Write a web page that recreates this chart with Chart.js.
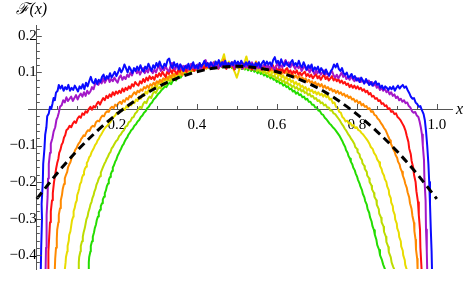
<!DOCTYPE html>
<html>
<head>
<meta charset="utf-8">
<script src="https://cdn.jsdelivr.net/npm/chart.js@4.4.0/dist/chart.umd.min.js"></script>
<style>
  html, body { margin: 0; padding: 0; background: #fff; }
  #plot { display: block; }
</style>
</head>
<body>
<canvas id="plot" width="463" height="282"></canvas>
<script>
// tick labels
const xTicks = [0.2, 0.4, 0.6, 0.8, 1.0];
const yTicks = [-0.4, -0.3, -0.2, -0.1, 0.1, 0.2];

// series, [x, F(x)]
const blue = [[0.010,-0.44],[0.011,-0.38],[0.013,-0.3],[0.012,-0.26],[0.015,-0.2],[0.016,-0.15],[0.019,-0.11],[0.021,-0.07],[0.024,-0.05],[0.026,-0.02],[0.030,-0.012],[0.033,0.006],[0.036,0.0],[0.039,0.014],[0.042,0.03],[0.045,0.024],[0.048,0.045],[0.052,0.05],[0.055,0.066],[0.059,0.056],[0.063,0.064],[0.067,0.05],[0.071,0.06],[0.075,0.054],[0.079,0.066],[0.083,0.05],[0.087,0.058],[0.091,0.052],[0.095,0.064],[0.099,0.056],[0.103,0.048],[0.107,0.062],[0.111,0.056],[0.115,0.068],[0.119,0.054],[0.123,0.072],[0.127,0.062],[0.131,0.076],[0.135,0.088],[0.139,0.074],[0.143,0.07],[0.147,0.082],[0.151,0.068],[0.155,0.08],[0.159,0.074],[0.163,0.088],[0.167,0.094],[0.171,0.08],[0.175,0.09],[0.179,0.084],[0.183,0.098],[0.187,0.086],[0.191,0.094],[0.195,0.102],[0.199,0.09],[0.203,0.1],[0.207,0.112],[0.211,0.1],[0.215,0.108],[0.219,0.122],[0.223,0.112],[0.227,0.1],[0.231,0.116],[0.235,0.108],[0.239,0.098],[0.243,0.112],[0.247,0.104],[0.251,0.116],[0.255,0.106],[0.259,0.12],[0.263,0.108],[0.267,0.102],[0.271,0.116],[0.275,0.11],[0.279,0.124],[0.283,0.114],[0.287,0.104],[0.291,0.12],[0.295,0.112],[0.299,0.126],[0.303,0.116],[0.307,0.13],[0.311,0.118],[0.315,0.112],[0.319,0.124],[0.323,0.118],[0.327,0.134],[0.331,0.138],[0.335,0.12],[0.339,0.112],[0.343,0.128],[0.347,0.116],[0.351,0.124],[0.355,0.108],[0.359,0.122],[0.363,0.114],[0.367,0.104],[0.371,0.118],[0.375,0.112],[0.379,0.124],[0.383,0.108],[0.387,0.116],[0.391,0.128],[0.395,0.112],[0.399,0.12],[0.403,0.11],[0.407,0.126],[0.411,0.116],[0.415,0.122],[0.419,0.132],[0.423,0.118],[0.427,0.126],[0.431,0.114],[0.435,0.128],[0.439,0.12],[0.443,0.112],[0.447,0.13],[0.451,0.122],[0.455,0.134],[0.459,0.118],[0.463,0.128],[0.467,0.12],[0.471,0.132],[0.475,0.114],[0.479,0.126],[0.483,0.118],[0.487,0.128],[0.491,0.12],[0.495,0.132],[0.499,0.122],[0.503,0.13],[0.507,0.116],[0.511,0.132],[0.515,0.124],[0.519,0.118],[0.523,0.128],[0.527,0.12],[0.531,0.13],[0.535,0.118],[0.539,0.124],[0.543,0.112],[0.547,0.126],[0.551,0.118],[0.555,0.128],[0.559,0.114],[0.563,0.126],[0.567,0.132],[0.571,0.12],[0.575,0.13],[0.579,0.122],[0.583,0.128],[0.587,0.118],[0.591,0.134],[0.595,0.142],[0.599,0.126],[0.603,0.132],[0.607,0.12],[0.611,0.136],[0.615,0.124],[0.619,0.118],[0.623,0.13],[0.627,0.122],[0.631,0.116],[0.635,0.128],[0.639,0.134],[0.643,0.12],[0.647,0.126],[0.651,0.118],[0.655,0.132],[0.659,0.12],[0.663,0.114],[0.667,0.128],[0.671,0.118],[0.675,0.108],[0.679,0.12],[0.683,0.112],[0.687,0.122],[0.691,0.104],[0.695,0.114],[0.699,0.108],[0.703,0.116],[0.707,0.1],[0.711,0.112],[0.715,0.104],[0.719,0.096],[0.723,0.108],[0.727,0.098],[0.731,0.092],[0.735,0.104],[0.739,0.11],[0.743,0.122],[0.747,0.114],[0.751,0.124],[0.755,0.11],[0.759,0.104],[0.763,0.112],[0.767,0.098],[0.771,0.094],[0.775,0.1],[0.779,0.086],[0.783,0.09],[0.787,0.096],[0.791,0.084],[0.795,0.09],[0.799,0.078],[0.803,0.084],[0.807,0.074],[0.811,0.086],[0.815,0.078],[0.819,0.07],[0.823,0.082],[0.827,0.074],[0.831,0.066],[0.835,0.074],[0.839,0.064],[0.843,0.07],[0.847,0.076],[0.851,0.066],[0.855,0.07],[0.859,0.058],[0.863,0.064],[0.867,0.054],[0.871,0.062],[0.875,0.058],[0.879,0.052],[0.883,0.06],[0.887,0.054],[0.891,0.062],[0.895,0.05],[0.899,0.058],[0.903,0.064],[0.907,0.056],[0.911,0.062],[0.915,0.066],[0.919,0.058],[0.923,0.062],[0.927,0.052],[0.931,0.044],[0.935,0.034],[0.939,0.028],[0.943,0.03],[0.947,0.018],[0.951,0.014],[0.955,0.006],[0.959,0.008],[0.963,-0.004],[0.967,-0.014],[0.970,-0.03],[0.973,-0.06],[0.976,-0.1],[0.979,-0.15],[0.981,-0.2],[0.983,-0.26],[0.985,-0.33],[0.987,-0.39],[0.988,-0.44]];

const purple = [[0.022,-0.44],[0.023,-0.38],[0.025,-0.33],[0.024,-0.29],[0.027,-0.24],[0.028,-0.19],[0.030,-0.15],[0.033,-0.12],[0.035,-0.095],[0.039,-0.08],[0.042,-0.062],[0.046,-0.05],[0.049,-0.03],[0.052,-0.022],[0.055,-0.01],[0.058,0.006],[0.062,0.01],[0.066,0.024],[0.070,0.018],[0.074,0.032],[0.078,0.022],[0.082,0.028],[0.086,0.034],[0.090,0.022],[0.094,0.03],[0.098,0.038],[0.102,0.026],[0.106,0.036],[0.110,0.042],[0.114,0.034],[0.118,0.046],[0.122,0.036],[0.126,0.05],[0.130,0.042],[0.134,0.048],[0.138,0.06],[0.142,0.054],[0.146,0.07],[0.150,0.078],[0.154,0.066],[0.158,0.076],[0.162,0.07],[0.166,0.084],[0.170,0.072],[0.174,0.08],[0.178,0.088],[0.182,0.074],[0.186,0.082],[0.190,0.076],[0.194,0.086],[0.198,0.078],[0.202,0.072],[0.206,0.086],[0.210,0.092],[0.214,0.08],[0.218,0.088],[0.222,0.082],[0.226,0.094],[0.230,0.088],[0.234,0.1],[0.238,0.092],[0.242,0.104],[0.246,0.11],[0.250,0.098],[0.254,0.106],[0.258,0.094],[0.262,0.104],[0.266,0.112],[0.270,0.098],[0.274,0.108],[0.278,0.1],[0.282,0.114],[0.286,0.104],[0.290,0.098],[0.294,0.108],[0.298,0.1],[0.302,0.112],[0.306,0.118],[0.310,0.104],[0.314,0.112],[0.318,0.106],[0.322,0.118],[0.326,0.108],[0.330,0.102],[0.334,0.116],[0.338,0.126],[0.342,0.114],[0.346,0.108],[0.350,0.12],[0.354,0.112],[0.358,0.122],[0.362,0.108],[0.366,0.118],[0.370,0.112],[0.374,0.12],[0.378,0.108],[0.382,0.116],[0.386,0.124],[0.390,0.112],[0.394,0.12],[0.398,0.11],[0.402,0.122],[0.406,0.114],[0.410,0.108],[0.414,0.12],[0.418,0.126],[0.422,0.134],[0.426,0.122],[0.430,0.114],[0.434,0.126],[0.438,0.118],[0.442,0.128],[0.446,0.114],[0.450,0.122],[0.454,0.112],[0.458,0.124],[0.462,0.116],[0.466,0.128],[0.470,0.118],[0.474,0.126],[0.478,0.114],[0.482,0.124],[0.486,0.118],[0.490,0.128],[0.494,0.112],[0.498,0.122],[0.502,0.114],[0.506,0.126],[0.510,0.118],[0.514,0.11],[0.518,0.122],[0.522,0.114],[0.526,0.124],[0.530,0.112],[0.534,0.12],[0.538,0.128],[0.542,0.116],[0.546,0.108],[0.550,0.12],[0.554,0.112],[0.558,0.122],[0.562,0.108],[0.566,0.118],[0.570,0.124],[0.574,0.112],[0.578,0.12],[0.582,0.11],[0.586,0.122],[0.590,0.114],[0.594,0.106],[0.598,0.118],[0.602,0.124],[0.606,0.112],[0.610,0.12],[0.614,0.114],[0.618,0.126],[0.622,0.134],[0.626,0.12],[0.630,0.128],[0.634,0.114],[0.638,0.124],[0.642,0.118],[0.646,0.11],[0.650,0.12],[0.654,0.112],[0.658,0.118],[0.662,0.104],[0.666,0.112],[0.670,0.118],[0.674,0.106],[0.678,0.112],[0.682,0.1],[0.686,0.11],[0.690,0.104],[0.694,0.096],[0.698,0.106],[0.702,0.098],[0.706,0.108],[0.710,0.094],[0.714,0.1],[0.718,0.106],[0.722,0.094],[0.726,0.1],[0.730,0.09],[0.734,0.098],[0.738,0.104],[0.742,0.092],[0.746,0.086],[0.750,0.094],[0.754,0.084],[0.758,0.092],[0.762,0.1],[0.766,0.088],[0.770,0.094],[0.774,0.082],[0.778,0.088],[0.782,0.08],[0.786,0.09],[0.790,0.082],[0.794,0.076],[0.798,0.086],[0.802,0.078],[0.806,0.084],[0.810,0.074],[0.814,0.08],[0.818,0.07],[0.822,0.078],[0.826,0.072],[0.830,0.078],[0.834,0.068],[0.838,0.074],[0.842,0.064],[0.846,0.07],[0.850,0.058],[0.854,0.062],[0.858,0.052],[0.862,0.058],[0.866,0.05],[0.870,0.056],[0.874,0.046],[0.878,0.05],[0.882,0.04],[0.886,0.046],[0.890,0.036],[0.894,0.04],[0.898,0.03],[0.902,0.034],[0.906,0.024],[0.910,0.028],[0.914,0.02],[0.918,0.024],[0.922,0.016],[0.926,0.018],[0.930,0.008],[0.934,0.004],[0.938,-0.006],[0.942,-0.01],[0.946,-0.008],[0.950,-0.018],[0.954,-0.022],[0.957,-0.034],[0.960,-0.05],[0.963,-0.07],[0.965,-0.1],[0.968,-0.14],[0.969,-0.19],[0.972,-0.25],[0.973,-0.33],[0.975,-0.39],[0.976,-0.44]];

const red = [[0.028,-0.44],[0.029,-0.39],[0.031,-0.35],[0.033,-0.31],[0.035,-0.28],[0.038,-0.25],[0.040,-0.23],[0.043,-0.2],[0.046,-0.18],[0.048,-0.165],[0.051,-0.148],[0.054,-0.136],[0.056,-0.12],[0.059,-0.112],[0.062,-0.098],[0.065,-0.092],[0.068,-0.078],[0.071,-0.072],[0.074,-0.058],[0.078,-0.054],[0.082,-0.046],[0.086,-0.05],[0.090,-0.04],[0.094,-0.034],[0.098,-0.038],[0.102,-0.026],[0.106,-0.02],[0.110,-0.024],[0.114,-0.012],[0.118,-0.016],[0.122,-0.006],[0.126,-0.01],[0.130,0.0],[0.134,0.006],[0.138,-0.002],[0.142,0.008],[0.146,0.004],[0.150,0.014],[0.154,0.02],[0.158,0.012],[0.162,0.022],[0.166,0.03],[0.170,0.024],[0.174,0.036],[0.178,0.03],[0.182,0.04],[0.186,0.034],[0.190,0.046],[0.194,0.038],[0.198,0.048],[0.202,0.042],[0.206,0.05],[0.210,0.044],[0.214,0.056],[0.218,0.048],[0.222,0.058],[0.226,0.052],[0.230,0.062],[0.234,0.056],[0.238,0.068],[0.242,0.062],[0.246,0.074],[0.250,0.068],[0.254,0.064],[0.258,0.076],[0.262,0.07],[0.266,0.082],[0.270,0.074],[0.274,0.086],[0.278,0.078],[0.282,0.09],[0.286,0.082],[0.290,0.088],[0.294,0.08],[0.298,0.094],[0.302,0.088],[0.306,0.098],[0.310,0.09],[0.314,0.102],[0.318,0.094],[0.322,0.088],[0.326,0.102],[0.330,0.096],[0.334,0.108],[0.338,0.098],[0.342,0.11],[0.346,0.102],[0.350,0.096],[0.354,0.108],[0.358,0.102],[0.362,0.114],[0.366,0.104],[0.370,0.11],[0.374,0.102],[0.378,0.116],[0.382,0.108],[0.386,0.12],[0.390,0.11],[0.394,0.104],[0.398,0.116],[0.402,0.11],[0.406,0.122],[0.410,0.112],[0.414,0.118],[0.418,0.108],[0.422,0.12],[0.426,0.114],[0.430,0.124],[0.434,0.112],[0.438,0.12],[0.442,0.126],[0.446,0.114],[0.450,0.12],[0.454,0.11],[0.458,0.122],[0.462,0.116],[0.466,0.128],[0.470,0.118],[0.474,0.11],[0.478,0.122],[0.482,0.114],[0.486,0.124],[0.490,0.116],[0.494,0.108],[0.498,0.12],[0.502,0.126],[0.506,0.114],[0.510,0.12],[0.514,0.112],[0.518,0.124],[0.522,0.116],[0.526,0.122],[0.530,0.112],[0.534,0.118],[0.538,0.108],[0.542,0.12],[0.546,0.114],[0.550,0.124],[0.554,0.112],[0.558,0.118],[0.562,0.108],[0.566,0.116],[0.570,0.122],[0.574,0.11],[0.578,0.116],[0.582,0.106],[0.586,0.114],[0.590,0.12],[0.594,0.108],[0.598,0.114],[0.602,0.104],[0.606,0.112],[0.610,0.104],[0.614,0.11],[0.618,0.1],[0.622,0.108],[0.626,0.112],[0.630,0.1],[0.634,0.106],[0.638,0.096],[0.642,0.104],[0.646,0.098],[0.650,0.106],[0.654,0.094],[0.658,0.1],[0.662,0.092],[0.666,0.098],[0.670,0.102],[0.674,0.09],[0.678,0.096],[0.682,0.088],[0.686,0.094],[0.690,0.084],[0.694,0.09],[0.698,0.096],[0.702,0.084],[0.706,0.09],[0.710,0.08],[0.714,0.088],[0.718,0.094],[0.722,0.082],[0.726,0.088],[0.730,0.078],[0.734,0.084],[0.738,0.09],[0.742,0.078],[0.746,0.084],[0.750,0.076],[0.754,0.082],[0.758,0.072],[0.762,0.078],[0.766,0.07],[0.770,0.074],[0.774,0.066],[0.778,0.07],[0.782,0.06],[0.786,0.066],[0.790,0.058],[0.794,0.064],[0.798,0.056],[0.802,0.062],[0.806,0.054],[0.810,0.058],[0.814,0.05],[0.818,0.054],[0.822,0.046],[0.826,0.05],[0.830,0.04],[0.834,0.044],[0.838,0.034],[0.842,0.036],[0.846,0.028],[0.850,0.03],[0.854,0.022],[0.858,0.024],[0.862,0.014],[0.866,0.016],[0.870,0.008],[0.874,0.01],[0.878,0.0],[0.882,0.002],[0.886,-0.008],[0.890,-0.006],[0.894,-0.014],[0.898,-0.012],[0.902,-0.022],[0.906,-0.026],[0.910,-0.032],[0.914,-0.04],[0.918,-0.048],[0.922,-0.06],[0.925,-0.074],[0.929,-0.09],[0.931,-0.108],[0.935,-0.124],[0.937,-0.142],[0.941,-0.16],[0.943,-0.18],[0.947,-0.2],[0.949,-0.225],[0.953,-0.255],[0.955,-0.29],[0.958,-0.33],[0.959,-0.38],[0.962,-0.44]];

const orange = [[0.045,-0.44],[0.046,-0.41],[0.048,-0.38],[0.050,-0.355],[0.051,-0.33],[0.054,-0.31],[0.055,-0.29],[0.058,-0.272],[0.060,-0.25],[0.063,-0.235],[0.065,-0.218],[0.068,-0.205],[0.070,-0.19],[0.073,-0.18],[0.076,-0.172],[0.078,-0.16],[0.081,-0.152],[0.084,-0.146],[0.087,-0.134],[0.090,-0.128],[0.093,-0.122],[0.096,-0.112],[0.099,-0.108],[0.102,-0.1],[0.105,-0.094],[0.108,-0.09],[0.111,-0.082],[0.114,-0.078],[0.117,-0.072],[0.120,-0.074],[0.124,-0.064],[0.128,-0.058],[0.132,-0.06],[0.136,-0.05],[0.140,-0.046],[0.144,-0.048],[0.148,-0.036],[0.152,-0.032],[0.156,-0.034],[0.160,-0.024],[0.164,-0.018],[0.168,-0.02],[0.172,-0.01],[0.176,-0.006],[0.180,-0.008],[0.184,0.002],[0.188,0.006],[0.192,0.002],[0.196,0.012],[0.200,0.008],[0.204,0.016],[0.208,0.02],[0.212,0.014],[0.216,0.024],[0.220,0.02],[0.224,0.03],[0.228,0.026],[0.232,0.036],[0.236,0.032],[0.240,0.04],[0.244,0.046],[0.248,0.04],[0.252,0.05],[0.256,0.046],[0.260,0.054],[0.264,0.05],[0.268,0.06],[0.272,0.056],[0.276,0.064],[0.280,0.058],[0.284,0.068],[0.288,0.064],[0.292,0.072],[0.296,0.066],[0.300,0.076],[0.304,0.072],[0.308,0.08],[0.312,0.074],[0.316,0.084],[0.320,0.08],[0.324,0.088],[0.328,0.082],[0.332,0.092],[0.336,0.086],[0.340,0.096],[0.344,0.09],[0.348,0.1],[0.352,0.094],[0.356,0.104],[0.360,0.098],[0.364,0.092],[0.368,0.104],[0.372,0.11],[0.376,0.1],[0.380,0.108],[0.384,0.114],[0.388,0.104],[0.392,0.112],[0.396,0.106],[0.400,0.118],[0.404,0.112],[0.408,0.124],[0.412,0.114],[0.416,0.108],[0.420,0.12],[0.424,0.114],[0.428,0.124],[0.432,0.116],[0.436,0.126],[0.440,0.118],[0.444,0.112],[0.448,0.124],[0.452,0.118],[0.456,0.13],[0.460,0.12],[0.464,0.126],[0.468,0.136],[0.472,0.124],[0.476,0.116],[0.480,0.126],[0.484,0.118],[0.488,0.128],[0.492,0.114],[0.496,0.122],[0.500,0.116],[0.504,0.126],[0.508,0.118],[0.512,0.124],[0.516,0.112],[0.520,0.12],[0.524,0.114],[0.528,0.126],[0.532,0.116],[0.536,0.11],[0.540,0.122],[0.544,0.116],[0.548,0.13],[0.552,0.118],[0.556,0.112],[0.560,0.12],[0.564,0.108],[0.568,0.116],[0.572,0.11],[0.576,0.118],[0.580,0.104],[0.584,0.112],[0.588,0.106],[0.592,0.114],[0.596,0.1],[0.600,0.108],[0.604,0.102],[0.608,0.11],[0.612,0.096],[0.616,0.104],[0.620,0.098],[0.624,0.104],[0.628,0.092],[0.632,0.098],[0.636,0.09],[0.640,0.096],[0.644,0.086],[0.648,0.092],[0.652,0.084],[0.656,0.09],[0.660,0.08],[0.664,0.086],[0.668,0.078],[0.672,0.084],[0.676,0.074],[0.680,0.08],[0.684,0.072],[0.688,0.076],[0.692,0.068],[0.696,0.074],[0.700,0.064],[0.704,0.07],[0.708,0.062],[0.712,0.068],[0.716,0.058],[0.720,0.064],[0.724,0.056],[0.728,0.06],[0.732,0.052],[0.736,0.056],[0.740,0.048],[0.744,0.052],[0.748,0.044],[0.752,0.05],[0.756,0.042],[0.760,0.046],[0.764,0.038],[0.768,0.042],[0.772,0.034],[0.776,0.038],[0.780,0.03],[0.784,0.034],[0.788,0.026],[0.792,0.028],[0.796,0.02],[0.800,0.024],[0.804,0.016],[0.808,0.02],[0.812,0.01],[0.816,0.014],[0.820,0.006],[0.824,0.008],[0.828,0.0],[0.832,0.002],[0.836,-0.008],[0.840,-0.006],[0.844,-0.016],[0.848,-0.018],[0.852,-0.026],[0.856,-0.03],[0.860,-0.038],[0.864,-0.044],[0.868,-0.052],[0.872,-0.058],[0.876,-0.068],[0.879,-0.076],[0.883,-0.086],[0.885,-0.094],[0.889,-0.104],[0.891,-0.11],[0.895,-0.118],[0.897,-0.126],[0.901,-0.134],[0.903,-0.144],[0.907,-0.152],[0.909,-0.162],[0.913,-0.172],[0.915,-0.182],[0.919,-0.194],[0.921,-0.204],[0.925,-0.216],[0.927,-0.228],[0.931,-0.242],[0.933,-0.258],[0.937,-0.274],[0.939,-0.292],[0.943,-0.312],[0.944,-0.334],[0.947,-0.358],[0.948,-0.384],[0.951,-0.41],[0.952,-0.44]];

const yellow = [[0.070,-0.44],[0.072,-0.42],[0.073,-0.405],[0.076,-0.39],[0.077,-0.375],[0.080,-0.36],[0.081,-0.345],[0.084,-0.335],[0.086,-0.32],[0.088,-0.305],[0.091,-0.295],[0.092,-0.28],[0.095,-0.27],[0.097,-0.258],[0.100,-0.25],[0.101,-0.236],[0.104,-0.226],[0.106,-0.218],[0.108,-0.206],[0.111,-0.2],[0.113,-0.188],[0.116,-0.18],[0.118,-0.172],[0.120,-0.164],[0.123,-0.158],[0.125,-0.148],[0.128,-0.142],[0.131,-0.132],[0.134,-0.128],[0.137,-0.118],[0.140,-0.112],[0.143,-0.106],[0.146,-0.098],[0.149,-0.094],[0.152,-0.086],[0.155,-0.082],[0.158,-0.074],[0.161,-0.07],[0.164,-0.064],[0.168,-0.056],[0.172,-0.05],[0.176,-0.046],[0.180,-0.04],[0.184,-0.036],[0.188,-0.026],[0.192,-0.022],[0.196,-0.018],[0.200,-0.01],[0.204,-0.012],[0.208,-0.004],[0.212,-0.006],[0.216,0.002],[0.220,-0.002],[0.224,0.008],[0.228,0.004],[0.232,0.014],[0.236,0.01],[0.240,0.02],[0.244,0.016],[0.248,0.026],[0.252,0.022],[0.256,0.034],[0.260,0.028],[0.264,0.04],[0.268,0.036],[0.272,0.048],[0.276,0.042],[0.280,0.054],[0.284,0.05],[0.288,0.06],[0.292,0.054],[0.296,0.066],[0.300,0.06],[0.304,0.072],[0.308,0.068],[0.312,0.078],[0.316,0.072],[0.320,0.082],[0.324,0.078],[0.328,0.088],[0.332,0.082],[0.336,0.092],[0.340,0.086],[0.344,0.096],[0.348,0.09],[0.352,0.1],[0.356,0.094],[0.360,0.104],[0.364,0.098],[0.368,0.108],[0.372,0.1],[0.376,0.11],[0.380,0.104],[0.384,0.114],[0.388,0.106],[0.392,0.116],[0.396,0.108],[0.400,0.118],[0.404,0.112],[0.408,0.122],[0.412,0.114],[0.416,0.124],[0.420,0.116],[0.424,0.11],[0.428,0.122],[0.432,0.116],[0.436,0.126],[0.440,0.118],[0.444,0.13],[0.448,0.12],[0.452,0.126],[0.456,0.116],[0.460,0.128],[0.464,0.136],[0.468,0.15],[0.472,0.128],[0.476,0.12],[0.480,0.13],[0.484,0.118],[0.488,0.124],[0.492,0.108],[0.496,0.098],[0.500,0.086],[0.504,0.1],[0.508,0.116],[0.512,0.124],[0.516,0.118],[0.520,0.13],[0.524,0.144],[0.528,0.126],[0.532,0.118],[0.536,0.126],[0.540,0.114],[0.544,0.122],[0.548,0.112],[0.552,0.12],[0.556,0.11],[0.560,0.116],[0.564,0.106],[0.568,0.114],[0.572,0.104],[0.576,0.11],[0.580,0.1],[0.584,0.106],[0.588,0.098],[0.592,0.104],[0.596,0.094],[0.600,0.1],[0.604,0.09],[0.608,0.096],[0.612,0.086],[0.616,0.092],[0.620,0.082],[0.624,0.088],[0.628,0.078],[0.632,0.084],[0.636,0.074],[0.640,0.078],[0.644,0.068],[0.648,0.074],[0.652,0.066],[0.656,0.07],[0.660,0.06],[0.664,0.064],[0.668,0.056],[0.672,0.06],[0.676,0.05],[0.680,0.056],[0.684,0.048],[0.688,0.052],[0.692,0.044],[0.696,0.048],[0.700,0.04],[0.704,0.046],[0.708,0.038],[0.712,0.042],[0.716,0.034],[0.720,0.04],[0.724,0.032],[0.728,0.036],[0.732,0.026],[0.736,0.028],[0.740,0.016],[0.744,0.018],[0.748,0.006],[0.752,0.004],[0.756,-0.008],[0.760,-0.01],[0.764,-0.022],[0.768,-0.026],[0.772,-0.034],[0.776,-0.032],[0.780,-0.04],[0.784,-0.038],[0.788,-0.046],[0.792,-0.044],[0.796,-0.052],[0.800,-0.05],[0.804,-0.058],[0.808,-0.06],[0.812,-0.066],[0.816,-0.07],[0.820,-0.076],[0.824,-0.082],[0.828,-0.088],[0.832,-0.096],[0.835,-0.104],[0.840,-0.11],[0.843,-0.12],[0.848,-0.128],[0.851,-0.138],[0.856,-0.146],[0.858,-0.156],[0.862,-0.164],[0.864,-0.174],[0.868,-0.182],[0.870,-0.192],[0.874,-0.2],[0.876,-0.212],[0.880,-0.222],[0.881,-0.234],[0.885,-0.244],[0.886,-0.256],[0.890,-0.266],[0.891,-0.278],[0.895,-0.29],[0.896,-0.302],[0.900,-0.314],[0.901,-0.326],[0.905,-0.338],[0.906,-0.35],[0.910,-0.362],[0.911,-0.376],[0.915,-0.388],[0.916,-0.4],[0.920,-0.414],[0.921,-0.426],[0.925,-0.44]];

const yellowGreen = [[0.103,-0.44],[0.105,-0.42],[0.106,-0.405],[0.109,-0.39],[0.110,-0.375],[0.113,-0.362],[0.115,-0.35],[0.117,-0.338],[0.120,-0.326],[0.122,-0.314],[0.124,-0.302],[0.127,-0.294],[0.129,-0.282],[0.132,-0.272],[0.134,-0.262],[0.137,-0.254],[0.139,-0.244],[0.142,-0.236],[0.144,-0.226],[0.147,-0.218],[0.149,-0.208],[0.152,-0.2],[0.155,-0.19],[0.158,-0.184],[0.160,-0.174],[0.163,-0.166],[0.166,-0.158],[0.169,-0.15],[0.172,-0.144],[0.175,-0.136],[0.178,-0.13],[0.181,-0.122],[0.184,-0.118],[0.187,-0.108],[0.190,-0.104],[0.194,-0.096],[0.198,-0.088],[0.202,-0.084],[0.206,-0.074],[0.210,-0.07],[0.214,-0.062],[0.218,-0.058],[0.222,-0.048],[0.226,-0.046],[0.230,-0.036],[0.234,-0.034],[0.238,-0.024],[0.242,-0.022],[0.246,-0.012],[0.250,-0.008],[0.254,0.0],[0.258,0.006],[0.262,0.002],[0.266,0.014],[0.270,0.02],[0.274,0.016],[0.278,0.028],[0.282,0.034],[0.286,0.03],[0.290,0.042],[0.294,0.048],[0.298,0.044],[0.302,0.054],[0.306,0.06],[0.310,0.056],[0.314,0.066],[0.318,0.07],[0.322,0.066],[0.326,0.076],[0.330,0.08],[0.334,0.076],[0.338,0.086],[0.342,0.09],[0.346,0.084],[0.350,0.094],[0.354,0.098],[0.358,0.092],[0.362,0.102],[0.366,0.098],[0.370,0.106],[0.374,0.1],[0.378,0.11],[0.382,0.104],[0.386,0.112],[0.390,0.106],[0.394,0.116],[0.398,0.11],[0.402,0.118],[0.406,0.112],[0.410,0.12],[0.414,0.114],[0.418,0.122],[0.422,0.114],[0.426,0.12],[0.430,0.112],[0.434,0.122],[0.438,0.116],[0.442,0.124],[0.446,0.116],[0.450,0.122],[0.454,0.114],[0.458,0.124],[0.462,0.118],[0.466,0.126],[0.470,0.116],[0.474,0.122],[0.478,0.114],[0.482,0.124],[0.486,0.116],[0.490,0.122],[0.494,0.112],[0.498,0.12],[0.502,0.114],[0.506,0.122],[0.510,0.112],[0.514,0.118],[0.518,0.11],[0.522,0.12],[0.526,0.112],[0.530,0.118],[0.534,0.108],[0.538,0.116],[0.542,0.108],[0.546,0.114],[0.550,0.104],[0.554,0.11],[0.558,0.102],[0.562,0.108],[0.566,0.098],[0.570,0.104],[0.574,0.096],[0.578,0.1],[0.582,0.09],[0.586,0.096],[0.590,0.088],[0.594,0.092],[0.598,0.082],[0.602,0.088],[0.606,0.078],[0.610,0.082],[0.614,0.074],[0.618,0.078],[0.622,0.07],[0.626,0.074],[0.630,0.066],[0.634,0.068],[0.638,0.06],[0.642,0.064],[0.646,0.056],[0.650,0.06],[0.654,0.052],[0.658,0.056],[0.662,0.048],[0.666,0.052],[0.670,0.044],[0.674,0.046],[0.678,0.038],[0.682,0.042],[0.686,0.034],[0.690,0.036],[0.694,0.028],[0.698,0.03],[0.702,0.022],[0.706,0.024],[0.710,0.016],[0.714,0.018],[0.718,0.01],[0.722,0.012],[0.726,0.004],[0.730,0.004],[0.734,-0.004],[0.738,-0.004],[0.742,-0.012],[0.746,-0.014],[0.750,-0.02],[0.754,-0.026],[0.758,-0.032],[0.762,-0.04],[0.766,-0.046],[0.770,-0.054],[0.774,-0.06],[0.778,-0.068],[0.782,-0.074],[0.786,-0.082],[0.790,-0.088],[0.794,-0.096],[0.796,-0.104],[0.801,-0.11],[0.802,-0.118],[0.807,-0.124],[0.808,-0.132],[0.813,-0.14],[0.814,-0.148],[0.819,-0.156],[0.820,-0.164],[0.825,-0.172],[0.826,-0.182],[0.831,-0.19],[0.832,-0.2],[0.837,-0.21],[0.838,-0.22],[0.843,-0.23],[0.844,-0.24],[0.849,-0.25],[0.850,-0.262],[0.855,-0.274],[0.856,-0.286],[0.861,-0.298],[0.862,-0.31],[0.867,-0.322],[0.868,-0.336],[0.873,-0.35],[0.874,-0.364],[0.879,-0.378],[0.880,-0.392],[0.885,-0.406],[0.887,-0.42],[0.891,-0.432],[0.894,-0.44]];

const green = [[0.128,-0.44],[0.130,-0.42],[0.131,-0.405],[0.134,-0.39],[0.135,-0.375],[0.138,-0.362],[0.140,-0.35],[0.143,-0.338],[0.145,-0.326],[0.148,-0.316],[0.150,-0.304],[0.153,-0.294],[0.155,-0.284],[0.158,-0.276],[0.160,-0.266],[0.163,-0.258],[0.165,-0.248],[0.168,-0.24],[0.170,-0.23],[0.173,-0.222],[0.175,-0.212],[0.178,-0.204],[0.180,-0.194],[0.183,-0.186],[0.185,-0.178],[0.188,-0.17],[0.190,-0.16],[0.193,-0.154],[0.196,-0.144],[0.199,-0.138],[0.202,-0.128],[0.205,-0.122],[0.208,-0.114],[0.211,-0.108],[0.214,-0.1],[0.217,-0.096],[0.220,-0.088],[0.223,-0.082],[0.226,-0.078],[0.229,-0.07],[0.232,-0.066],[0.236,-0.058],[0.240,-0.054],[0.244,-0.046],[0.248,-0.042],[0.252,-0.034],[0.256,-0.03],[0.260,-0.022],[0.264,-0.018],[0.268,-0.01],[0.272,-0.006],[0.276,0.002],[0.280,0.006],[0.284,0.014],[0.288,0.018],[0.292,0.026],[0.296,0.03],[0.300,0.036],[0.304,0.042],[0.308,0.046],[0.312,0.052],[0.316,0.056],[0.320,0.062],[0.324,0.06],[0.328,0.068],[0.332,0.072],[0.336,0.068],[0.340,0.078],[0.344,0.082],[0.348,0.078],[0.352,0.088],[0.356,0.09],[0.360,0.086],[0.364,0.094],[0.368,0.098],[0.372,0.094],[0.376,0.102],[0.380,0.104],[0.384,0.1],[0.388,0.108],[0.392,0.104],[0.396,0.112],[0.400,0.108],[0.404,0.114],[0.408,0.108],[0.412,0.116],[0.416,0.11],[0.420,0.118],[0.424,0.112],[0.428,0.118],[0.432,0.112],[0.436,0.12],[0.440,0.114],[0.444,0.12],[0.448,0.112],[0.452,0.12],[0.456,0.114],[0.460,0.122],[0.464,0.114],[0.468,0.12],[0.472,0.112],[0.476,0.12],[0.480,0.114],[0.484,0.12],[0.488,0.112],[0.492,0.118],[0.496,0.11],[0.500,0.118],[0.504,0.112],[0.508,0.118],[0.512,0.11],[0.516,0.116],[0.520,0.108],[0.524,0.114],[0.528,0.106],[0.532,0.112],[0.536,0.104],[0.540,0.11],[0.544,0.102],[0.548,0.106],[0.552,0.098],[0.556,0.104],[0.560,0.096],[0.564,0.1],[0.568,0.092],[0.572,0.096],[0.576,0.088],[0.580,0.092],[0.584,0.084],[0.588,0.088],[0.592,0.08],[0.596,0.082],[0.600,0.074],[0.604,0.078],[0.608,0.07],[0.612,0.072],[0.616,0.064],[0.620,0.068],[0.624,0.06],[0.628,0.062],[0.632,0.054],[0.636,0.056],[0.640,0.048],[0.644,0.05],[0.648,0.042],[0.652,0.046],[0.656,0.038],[0.660,0.04],[0.664,0.032],[0.668,0.034],[0.672,0.026],[0.676,0.028],[0.680,0.02],[0.684,0.02],[0.688,0.012],[0.692,0.012],[0.696,0.004],[0.700,0.004],[0.704,-0.004],[0.708,-0.006],[0.712,-0.014],[0.716,-0.016],[0.720,-0.024],[0.724,-0.028],[0.728,-0.034],[0.732,-0.04],[0.736,-0.044],[0.740,-0.05],[0.744,-0.054],[0.748,-0.06],[0.752,-0.066],[0.756,-0.072],[0.760,-0.08],[0.764,-0.088],[0.767,-0.096],[0.771,-0.104],[0.773,-0.112],[0.777,-0.12],[0.779,-0.128],[0.783,-0.136],[0.785,-0.144],[0.789,-0.152],[0.791,-0.16],[0.795,-0.168],[0.797,-0.176],[0.801,-0.186],[0.803,-0.194],[0.807,-0.204],[0.809,-0.212],[0.813,-0.222],[0.815,-0.232],[0.819,-0.242],[0.821,-0.252],[0.825,-0.262],[0.827,-0.274],[0.831,-0.284],[0.833,-0.296],[0.837,-0.308],[0.839,-0.32],[0.843,-0.332],[0.845,-0.344],[0.849,-0.358],[0.851,-0.372],[0.856,-0.386],[0.858,-0.4],[0.863,-0.414],[0.866,-0.426],[0.871,-0.44]];

// dashed reference curve
const fit = [[0,-0.246],[0.05,-0.177],[0.1,-0.115],[0.15,-0.061],[0.2,-0.014],[0.25,0.026],[0.3,0.059],[0.35,0.084],[0.4,0.102],[0.45,0.113],[0.5,0.117],[0.55,0.113],[0.6,0.102],[0.65,0.084],[0.7,0.059],[0.75,0.026],[0.8,-0.014],[0.85,-0.061],[0.9,-0.115],[0.95,-0.177],[1,-0.246]];

const curves = [
    { data: blue, color: '#0a0aff' },
    { data: purple, color: '#a318c8' },
    { data: red, color: '#ff1010' },
    { data: orange, color: '#ff8a00' },
    { data: yellow, color: '#e8dc00' },
    { data: yellowGreen, color: '#bcdc00' },
    { data: green, color: '#24dc00' }
];

const toPts = arr => arr.map(p => ({ x: p[0], y: p[1] }));

const datasets = [{
    data: toPts(fit),
    borderColor: '#000', borderWidth: 3, borderDash: [8, 5],
    cubicInterpolationMode: 'monotone', pointRadius: 0
}];
curves.forEach(c => datasets.push({
    data: toPts(c.data), borderColor: c.color, borderWidth: 2,
    pointRadius: 0, tension: 0, borderJoinStyle: 'round'
}));

const fmt = v => Math.abs(v) < 1e-9 ? '' : (v < 0 ? '\u2212' : '') + Math.abs(v).toFixed(1);
const axisColor = '#555';
const serif = "'Liberation Serif', 'DejaVu Serif', serif";

// inward tick marks + axis names, Mathematica style
const axisDecor = {
    id: 'axisDecor',
    afterDraw(chart) {
        const { ctx, chartArea, scales: { x, y } } = chart;
        const x0 = x.getPixelForValue(0), y0 = y.getPixelForValue(0);
        ctx.save();
        ctx.strokeStyle = axisColor;
        ctx.lineWidth = 1;
        ctx.beginPath();
        for (let i = -1; i <= 21; i++) {
            const v = i * 0.05;
            if (i === 0 || v < x.min || v > x.max) continue;
            const px = Math.round(x.getPixelForValue(v)) + 0.5;
            const len = i % 4 === 0 ? 5 : 3;
            ctx.moveTo(px, y0); ctx.lineTo(px, y0 - len);
        }
        for (let j = -22; j <= 12; j++) {
            const v = j * 0.02;
            if (j === 0 || v < y.min || v > y.max) continue;
            const py = Math.round(y.getPixelForValue(v)) + 0.5;
            const len = j % 5 === 0 ? 5 : 3;
            ctx.moveTo(x0, py); ctx.lineTo(x0 + len, py);
        }
        ctx.stroke();

        ctx.fillStyle = '#000';
        ctx.textBaseline = 'middle';
        ctx.font = 'italic 16px ' + serif;
        ctx.textAlign = 'left';
        ctx.fillText('x', chartArea.right + 4, y0 + 1);
        ctx.textAlign = 'center';
        ctx.fillText('\u2131(x)', x0 - 5, chartArea.top - 15);
        ctx.restore();
    }
};

new Chart(document.getElementById('plot'), {
    type: 'line',
    data: { datasets },
    options: {
        responsive: false,
        animation: false,
        events: [],
        layout: { padding: { left: 28, right: 11, top: 25, bottom: 0 } },
        plugins: { legend: { display: false }, tooltip: { enabled: false } },
        scales: {
            x: {
                type: 'linear', min: -0.022, max: 1.038,
                position: { y: 0 }, z: 1,
                grid: { display: false, drawTicks: false },
                border: { display: true, color: axisColor, width: 1 },
                afterBuildTicks: s => { s.ticks = xTicks.map(v => ({ value: v })); },
                ticks: {
                    callback: fmt, color: '#000', padding: 7, maxRotation: 0,
                    autoSkip: false, font: { family: serif, size: 15 }
                }
            },
            y: {
                type: 'linear', min: -0.438, max: 0.23,
                position: { x: 0 }, z: 1,
                grid: { display: false, drawTicks: false },
                border: { display: true, color: axisColor, width: 1 },
                afterBuildTicks: s => { s.ticks = yTicks.map(v => ({ value: v })); },
                ticks: {
                    callback: fmt, color: '#000', padding: 4,
                    autoSkip: false, font: { family: serif, size: 15 }
                }
            }
        }
    },
    plugins: [axisDecor]
});
</script>
</body>
</html>
